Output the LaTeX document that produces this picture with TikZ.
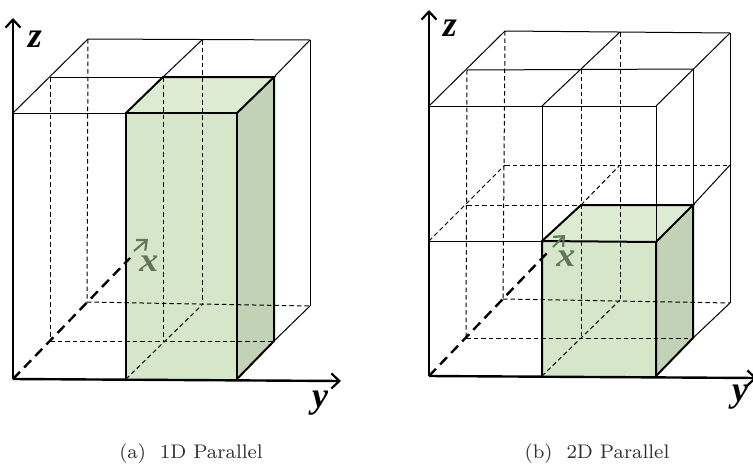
\documentclass[tikz,border=0pt]{standalone}
\usepackage{fontspec}
\usetikzlibrary{arrows.meta}
\newfontfamily\axisfont[BoldItalicFont={Liberation Serif Bold Italic}]{Liberation Serif}
\definecolor{frontgreen}{HTML}{D5E7C8}
\definecolor{topgreen}{HTML}{DDEBD3}
\definecolor{sidegreen}{HTML}{C2D2B5}
\definecolor{xgreen}{HTML}{5F7758}
\definecolor{capgray}{HTML}{303030}
\tikzset{
  thinline/.style={line width=1pt,black},
  thickline/.style={line width=2pt,black},
  dashline/.style={line width=1pt,black,dash pattern=on 4.5pt off 3pt},
  axisline/.style={line width=2.4pt,black,-{Straight Barb[length=8pt,width=15pt,line width=2.2pt]}},
  xaxisline/.style={line width=2.4pt,black,dash pattern=on 10pt off 6pt},
  xtip/.style={line width=2pt,xgreen,-{Straight Barb[length=8pt,width=14pt,line width=2.2pt]}},
  axislabel/.style={font=\axisfont\bfseries\itshape\fontsize{36}{36}\selectfont,inner sep=0pt},
  xlabel/.style={font=\axisfont\bfseries\itshape\fontsize{34}{34}\selectfont,inner sep=0pt,text=xgreen,xscale=1.12},
  captionlabel/.style={inner sep=0pt,text=capgray,scale=2.46}
}
\begin{document}
\begin{tikzpicture}[x=1pt,y=-1pt]
\useasboundingbox (0,0) rectangle (753,464);
% ---------- panel (a) ----------
\coordinate (aO) at (13,379);
\coordinate (aZ) at (13,18);
\coordinate (aY) at (341,381);
\coordinate (aA1) at (13,113);
\coordinate (aA2) at (126,113);
\coordinate (aA3) at (237,113);
\coordinate (aB1) at (50,77);
\coordinate (aB2) at (163,77);
\coordinate (aB3) at (274,77);
\coordinate (aC1) at (88,39);
\coordinate (aC2) at (202,40);
\coordinate (aC3) at (310,40);
\coordinate (aD2) at (126,379);
\coordinate (aD3) at (237,379);
\coordinate (aE1) at (50,341);
\coordinate (aE2) at (163,341);
\coordinate (aE3) at (274,341);
\coordinate (aF1) at (87,302);
\coordinate (aF2) at (202,305);
\coordinate (aF3) at (310,306);
\coordinate (aXm) at (130,258);
\coordinate (aXs) at (134,251);
\coordinate (aXt) at (148,239);
\fill[frontgreen] (aA2) -- (aA3) -- (aD3) -- (aD2) -- cycle;
\fill[topgreen] (aA2) -- (aB2) -- (aB3) -- (aA3) -- cycle;
\fill[sidegreen] (aA3) -- (aB3) -- (aE3) -- (aD3) -- cycle;
\draw[dashline] (aB1) -- (aE1);
\draw[dashline] (aC1) -- (aF1);
\draw[dashline] (aB2) -- (aE2);
\draw[dashline] (aC2) -- (aF2);
\draw[dashline] (aE1) -- (aE3);
\draw[dashline] (aF1) -- (aF3);
\draw[dashline] (aD2) -- (aF2);
\draw[thinline] (aA1) -- (aA2);
\draw[thinline] (aB1) -- (aB2);
\draw[thinline] (aC1) -- (aC3);
\draw[thinline] (aA1) -- (aC1);
\draw[thinline] (aB2) -- (aC2);
\draw[thinline] (aB3) -- (aC3);
\draw[thinline] (aC3) -- (aF3);
\draw[thinline] (aE3) -- (aF3);
\draw[thickline,line join=miter] (aD2) -- (aA2) -- (aA3) -- (aD3);
\draw[thickline] (aA2) -- (aB2) -- (aB3) -- (aA3);
\draw[thickline] (aB3) -- (aE3) -- (aD3);
\draw[axisline] (aO) -- (aZ);
\draw[axisline] (aO) -- (aY);
\draw[xaxisline] (aO) -- (aXm);
\draw[xtip] (aXs) -- (aXt);
\node[axislabel,text=black] (aLz) at (35,39) {z};
\node[axislabel,text=black] (aLy) at (320,403) {y};
\node[xlabel] (aLx) at (149,264) {x};
\node[captionlabel] (aCap) at (191,454) {\footnotesize (a)\ \ 1D Parallel};
% ---------- panel (b) ----------
\coordinate (bO) at (429,376);
\coordinate (bZ) at (429,10);
\coordinate (bY) at (757,378);
\coordinate (bA1) at (429,106);
\coordinate (bA2) at (542,106);
\coordinate (bA3) at (656,106);
\coordinate (bB1) at (467,70);
\coordinate (bB2) at (581,69);
\coordinate (bB3) at (693,69);
\coordinate (bC1) at (505,31);
\coordinate (bC2) at (620,32);
\coordinate (bC3) at (730,33);
\coordinate (bG1) at (429,241);
\coordinate (bG2) at (542,241);
\coordinate (bG3) at (656,242);
\coordinate (bH1) at (467,205);
\coordinate (bH2) at (581,205);
\coordinate (bH3) at (693,205);
\coordinate (bI1) at (505,165);
\coordinate (bI2) at (620,165);
\coordinate (bI3) at (730,165);
\coordinate (bD2) at (542,376);
\coordinate (bD3) at (656,376);
\coordinate (bE1) at (466,338);
\coordinate (bE2) at (581,338);
\coordinate (bE3) at (693,338);
\coordinate (bF1) at (503,299);
\coordinate (bF2) at (620,300);
\coordinate (bF3) at (730,303);
\coordinate (bXm) at (547,253);
\coordinate (bXs) at (553,247);
\coordinate (bXt) at (565,235);
\fill[frontgreen] (bG2) -- (bG3) -- (bD3) -- (bD2) -- cycle;
\fill[topgreen] (bG2) -- (bH2) -- (bH3) -- (bG3) -- cycle;
\fill[sidegreen] (bG3) -- (bH3) -- (bE3) -- (bD3) -- cycle;
\draw[dashline] (bB1) -- (bE1);
\draw[dashline] (bC1) -- (bF1);
\draw[dashline] (bB2) -- (bE2);
\draw[dashline] (bC2) -- (bF2);
\draw[dashline] (bE1) -- (bE3);
\draw[dashline] (bF1) -- (bF3);
\draw[dashline] (bI1) -- (bI3);
\draw[dashline] (bH1) -- (bH2);
\draw[dashline] (bG1) -- (bI1);
\draw[dashline] (bH2) -- (bI2);
\draw[dashline] (bD2) -- (bF2);
\draw[thinline] (bA1) -- (bA3);
\draw[thinline] (bB1) -- (bB3);
\draw[thinline] (bC1) -- (bC3);
\draw[thinline] (bA1) -- (bC1);
\draw[thinline] (bA2) -- (bC2);
\draw[thinline] (bA3) -- (bC3);
\draw[thinline] (bA2) -- (bG2);
\draw[thinline] (bA3) -- (bG3);
\draw[thinline] (bB3) -- (bH3);
\draw[thinline] (bC3) -- (bF3);
\draw[thinline] (bH3) -- (bI3);
\draw[thinline] (bE3) -- (bF3);
\draw[thinline] (bG1) -- (bG2);
\draw[thickline] (bD2) -- (bG2) -- (bG3) -- (bD3);
\draw[thickline] (bG2) -- (bH2) -- (bH3) -- (bG3);
\draw[thickline] (bH3) -- (bE3) -- (bD3);
\draw[axisline] (bO) -- (bZ);
\draw[axisline] (bO) -- (bY);
\draw[xaxisline] (bO) -- (bXm);
\draw[xtip] (bXs) -- (bXt);
\node[axislabel,text=black] (bLz) at (450,28) {z};
\node[axislabel,text=black] (bLy) at (740,397) {y};
\node[xlabel] (bLx) at (566,259) {x};
\node[captionlabel] (bCap) at (597,454) {\footnotesize (b)\ \ 2D Parallel};
\end{tikzpicture}
\end{document}
